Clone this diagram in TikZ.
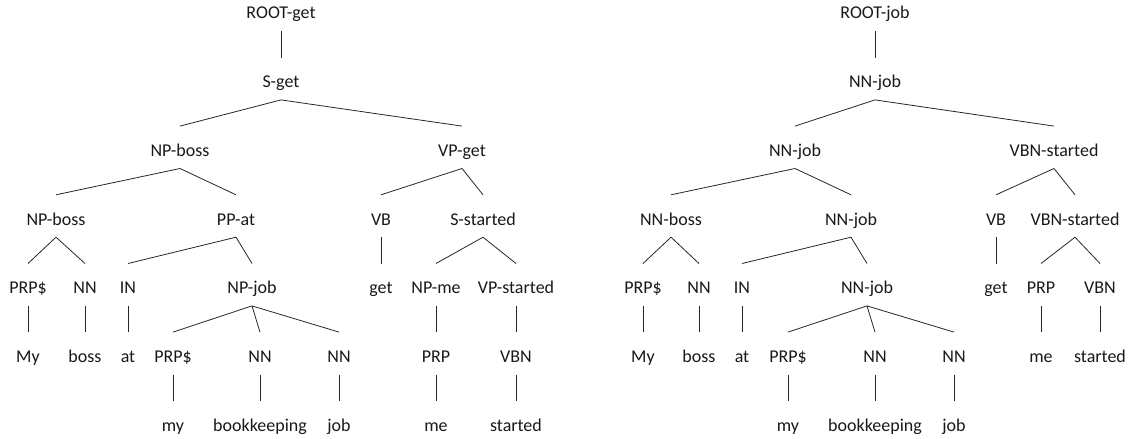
\documentclass[tikz,border=0pt]{standalone}
\usepackage{fontspec}
\setmainfont{Carlito}
\begin{document}
\begin{tikzpicture}[x=1pt,y=-1pt,
  lbl/.style={anchor=base,inner sep=0pt,text height=30pt,text depth=12pt,font=\fontsize{18}{20}\selectfont,text=black!90},
  br/.style={draw=black!85,line width=0.8pt}]
\useasboundingbox (0,0) rectangle (1128,439);
\def\ra{19}\def\rb{87.7}\def\rc{156.3}\def\rd{225}\def\re{293.7}\def\rf{362.3}\def\rg{431}
% ---------- left tree ----------
\node[lbl] (lroot) at (281,\ra) {ROOT-get};
\node[lbl] (ls) at (281,\rb) {S-get};
\node[lbl] (lnp) at (180,\rc) {NP-boss};
\node[lbl] (lvp) at (462,\rc) {VP-get};
\node[lbl] (lnp2) at (56,\rd) {NP-boss};
\node[lbl] (lpp) at (236,\rd) {PP-at};
\node[lbl] (lvb) at (381,\rd) {VB};
\node[lbl] (lss) at (483,\rd) {S-started};
\node[lbl] (lprp) at (28,\re) {PRP\$};
\node[lbl] (lnn) at (85,\re) {NN};
\node[lbl] (lin) at (128,\re) {IN};
\node[lbl] (lnpj) at (252,\re) {NP-job};
\node[lbl] (lget) at (381,\re) {get};
\node[lbl] (lnpme) at (436,\re) {NP-me};
\node[lbl] (lvps) at (516,\re) {VP-started};
\node[lbl] (lmy) at (28,\rf) {My};
\node[lbl] (lboss) at (85,\rf) {boss};
\node[lbl] (lat) at (128,\rf) {at};
\node[lbl] (lprp2) at (173,\rf) {PRP\$};
\node[lbl] (lnn2) at (260,\rf) {NN};
\node[lbl] (lnn3) at (339,\rf) {NN};
\node[lbl] (lprp3) at (436,\rf) {PRP};
\node[lbl] (lvbn) at (516,\rf) {VBN};
\node[lbl] (lmy2) at (173,\rg) {my};
\node[lbl] (lbook) at (260,\rg) {bookkeeping};
\node[lbl] (ljob) at (339,\rg) {job};
\node[lbl] (lme) at (436,\rg) {me};
\node[lbl] (lstarted) at (516,\rg) {started};
\foreach \p/\c in {lroot/ls,ls/lnp,ls/lvp,lnp/lnp2,lnp/lpp,lvp/lvb,lvp/lss,
  lnp2/lprp,lnp2/lnn,lpp/lin,lpp/lnpj,lvb/lget,lss/lnpme,lss/lvps,
  lprp/lmy,lnn/lboss,lin/lat,lnpj/lprp2,lnpj/lnn2,lnpj/lnn3,lnpme/lprp3,lvps/lvbn,
  lprp2/lmy2,lnn2/lbook,lnn3/ljob,lprp3/lme,lvbn/lstarted}
  \draw[br] (\p.south) -- (\c.north);
% ---------- right tree ----------
\node[lbl] (rroot) at (875,\ra) {ROOT-job};
\node[lbl] (rs) at (875,\rb) {NN-job};
\node[lbl] (rnn) at (795,\rc) {NN-job};
\node[lbl] (rvbn) at (1054,\rc) {VBN-started};
\node[lbl] (rnnb) at (671,\rd) {NN-boss};
\node[lbl] (rnnj) at (851,\rd) {NN-job};
\node[lbl] (rvb) at (996,\rd) {VB};
\node[lbl] (rvbn2) at (1075,\rd) {VBN-started};
\node[lbl] (rprp) at (643,\re) {PRP\$};
\node[lbl] (rnn1) at (699,\re) {NN};
\node[lbl] (rin) at (742,\re) {IN};
\node[lbl] (rnnj2) at (867,\re) {NN-job};
\node[lbl] (rget) at (996,\re) {get};
\node[lbl] (rprp2) at (1041,\re) {PRP};
\node[lbl] (rvbn3) at (1100,\re) {VBN};
\node[lbl] (rmy) at (643,\rf) {My};
\node[lbl] (rboss) at (699,\rf) {boss};
\node[lbl] (rat) at (742,\rf) {at};
\node[lbl] (rprp3) at (788,\rf) {PRP\$};
\node[lbl] (rnn2) at (875,\rf) {NN};
\node[lbl] (rnn3) at (954,\rf) {NN};
\node[lbl] (rme) at (1041,\rf) {me};
\node[lbl] (rstarted) at (1100,\rf) {started};
\node[lbl] (rmy2) at (788,\rg) {my};
\node[lbl] (rbook) at (875,\rg) {bookkeeping};
\node[lbl] (rjob) at (954,\rg) {job};
\foreach \p/\c in {rroot/rs,rs/rnn,rs/rvbn,rnn/rnnb,rnn/rnnj,rvbn/rvb,rvbn/rvbn2,
  rnnb/rprp,rnnb/rnn1,rnnj/rin,rnnj/rnnj2,rvb/rget,rvbn2/rprp2,rvbn2/rvbn3,
  rprp/rmy,rnn1/rboss,rin/rat,rnnj2/rprp3,rnnj2/rnn2,rnnj2/rnn3,rprp2/rme,rvbn3/rstarted,
  rprp3/rmy2,rnn2/rbook,rnn3/rjob}
  \draw[br] (\p.south) -- (\c.north);
\end{tikzpicture}
\end{document}
